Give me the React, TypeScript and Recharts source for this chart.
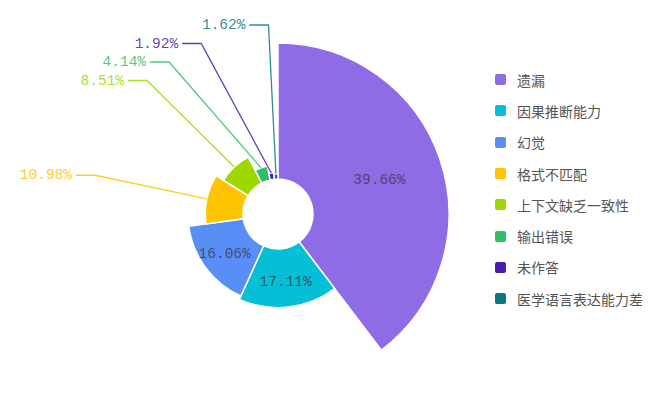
import { PieChart, Pie, Cell, Legend } from 'recharts';

const categories = ['遗漏', '因果推断能力', '幻觉', '格式不匹配', '上下文缺乏一致性', '输出错误', '未作答', '医学语言表达能力差'];
const shares = [39.66, 17.11, 16.06, 10.98, 8.51, 4.14, 1.92, 1.62];
const colors = ['#8f6be6', '#05bfd6', '#5a8ef7', '#ffc400', '#9cd800', '#2fbf66', '#4a1cb3', '#0b7880'];

const W = 660;
const H = 397;
const CX = 278;
const CY = 214;
const INNER = 35;
const OUTER = 171;
const INSIDE_MIN = 12; // bigger slices keep their label inside
const BEND_R = OUTER + 16;
const LABEL_GAP = 18.5;
const TOP_LIMIT = CY - OUTER - 18;
const RAD = Math.PI / 180;
const LABEL_FONT = '"Liberation Mono", monospace';

const data = categories.map((name, i) => ({ name, value: shares[i] }));
const maxShare = Math.max(...shares);
const total = shares.reduce((a, b) => a + b, 0);

// rose (nightingale) radius: value -> radius between hole and outer ring
const roseRadius = (v: number) => INNER + (v / maxShare) * (OUTER - INNER);

const midAngles = shares.map((v, i) => {
  const before = shares.slice(0, i).reduce((a, b) => a + b, 0);
  return 90 - (360 * (before + v / 2)) / total;
});

// spread the outside labels so they do not overlap
const layoutOutsideLabels = () => {
  const out: Record<number, { x: number; y: number; side: number }> = {};
  [-1, 1].forEach(side => {
    const items = shares
      .map((v, i) => ({ i, v, a: midAngles[i], y: 0 }))
      .filter(d => d.v < INSIDE_MIN && (Math.cos(d.a * RAD) < 0 ? -1 : 1) === side);
    items.forEach(d => { d.y = CY - BEND_R * Math.sin(d.a * RAD); });
    items.sort((p, q) => p.y - q.y);
    for (let k = items.length - 2; k >= 0; k--) {
      items[k].y = Math.min(items[k].y, items[k + 1].y - LABEL_GAP);
    }
    for (let k = 0; k < items.length; k++) {
      items[k].y = Math.max(items[k].y, k === 0 ? TOP_LIMIT : items[k - 1].y + LABEL_GAP);
    }
    items.forEach(d => {
      const dy = d.y - CY;
      const dx = Math.abs(dy) < BEND_R
        ? Math.sqrt(BEND_R * BEND_R - dy * dy)
        : Math.abs(BEND_R * Math.cos(d.a * RAD));
      out[d.i] = { x: CX + side * dx, y: d.y, side };
    });
  });
  return out;
};

const outsideLayout = layoutOutsideLabels();

const renderLabel = (p: any) => {
  const i = p.index;
  const cx = Number(p.cx);
  const cy = Number(p.cy);
  const text = `${shares[i].toFixed(2)}%`;
  if (shares[i] >= INSIDE_MIN) {
    const r = (p.innerRadius + p.outerRadius) / 2 + 4;
    const x = cx + r * Math.cos(p.midAngle * RAD);
    const y = cy - r * Math.sin(p.midAngle * RAD);
    return (
      <text x={x} y={y} textAnchor="middle" dominantBaseline="central"
        fontFamily={LABEL_FONT} fontSize={14.5} fill="#333" fillOpacity={0.72}>
        {text}
      </text>
    );
  }
  const start = {
    x: cx + p.outerRadius * Math.cos(p.midAngle * RAD),
    y: cy - p.outerRadius * Math.sin(p.midAngle * RAD),
  };
  const bend = outsideLayout[i];
  const endX = bend.x + bend.side * 19;
  return (
    <g>
      <polyline points={`${start.x},${start.y} ${bend.x},${bend.y} ${endX},${bend.y}`}
        fill="none" stroke={colors[i]} strokeWidth={1.3} strokeOpacity={0.85} />
      <text x={endX + bend.side * 4} y={bend.y} textAnchor={bend.side < 0 ? 'end' : 'start'}
        dominantBaseline="central" fontFamily={LABEL_FONT} fontSize={14.5} fill={colors[i]} fillOpacity={0.85}>
        {text}
      </text>
    </g>
  );
};

const renderLegend = () => (
  <div style={{ display: 'flex', flexDirection: 'column' }}>
    {categories.map((name, i) => (
      <div key={name} style={{ display: 'flex', alignItems: 'center', height: 31.3 }}>
        <span style={{ flexShrink: 0, width: 11, height: 11, borderRadius: 2, background: colors[i], marginRight: 11 }} />
        <span style={{ fontSize: 14, color: '#555', fontFamily: '"Noto Sans CJK SC", sans-serif', whiteSpace: 'nowrap' }}>{name}</span>
      </div>
    ))}
  </div>
);

export default function App() {
  return (
    <div style={{ width: W, height: H, background: '#fff' }}>
      <style>{'body{margin:0}'}</style>
      <PieChart width={W} height={H} margin={{ top: 0, right: 0, bottom: 0, left: 0 }}>
        {shares.map((v, i) => (
          <Pie
            key={categories[i]}
            data={data}
            dataKey="value"
            nameKey="name"
            cx={CX}
            cy={CY}
            innerRadius={INNER}
            outerRadius={roseRadius(v)}
            startAngle={90}
            endAngle={-270}
            stroke="#fff"
            strokeWidth={1.5}
            labelLine={false}
            label={(p: any) => (p.index === i ? renderLabel(p) : null)}
            isAnimationActive={false}
          >
            {data.map((d, j) => (
              <Cell key={d.name} fill={j === i ? colors[j] : 'none'} stroke={j === i ? '#fff' : 'none'} />
            ))}
          </Pie>
        ))}
        <Legend layout="vertical" align="right" verticalAlign="top" content={renderLegend}
          wrapperStyle={{ left: 495, top: 64, width: 165 }} />
      </PieChart>
    </div>
  );
}
